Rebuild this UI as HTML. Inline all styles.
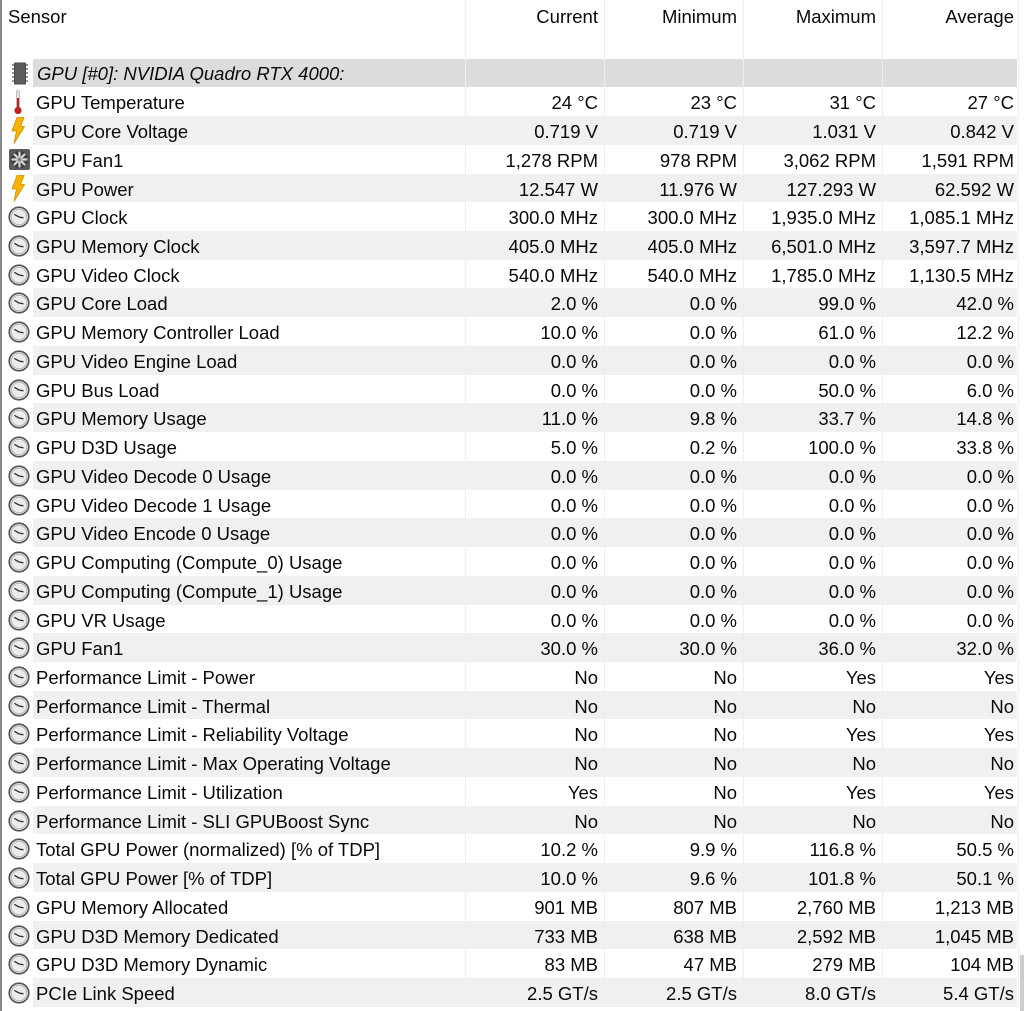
<!DOCTYPE html>
<html><head><meta charset="utf-8"><style>
html,body{margin:0;padding:0;background:#fff;}
body{width:1024px;height:1011px;position:relative;overflow:hidden;font-family:"Liberation Sans",sans-serif;font-size:18.5px;color:#0a0a0a;}
.lb{position:absolute;left:0;top:0;width:2px;height:1011px;background:#8a8a8a;}
.hd{position:absolute;top:6.5px;line-height:20px;white-space:nowrap;}
.grp{position:absolute;left:0;top:59.3px;width:1024px;height:28px;}
.grp::before{content:"";position:absolute;left:33px;width:984px;top:0;bottom:0;background:#dcdcdc;}
.grp .t{position:absolute;left:37px;top:0;line-height:29px;font-style:italic;white-space:nowrap;}
.rows{position:absolute;left:0;top:87.3px;width:1024px;}
.r{position:relative;height:28.74px;width:1024px;}
.r.s::before{content:"";position:absolute;left:33px;width:984px;top:0;bottom:0;background:#f0f0f0;}
.r span{position:absolute;top:0;line-height:28.74px;padding-top:2px;white-space:nowrap;}
.r .n{left:36px;}
.r .v{width:139px;text-align:right;padding-right:6px;box-sizing:border-box;}
.c1{left:465px}.c2{left:604px}.c3{left:743px}.c4{left:882px;width:138px!important}
.ic{position:absolute;left:0;top:0;}
.ic svg{position:absolute;}
.sep{position:absolute;top:0;width:1px;height:1007px;background:#eeeeee;}
.sb{position:absolute;left:1020px;top:955px;width:4px;height:56px;background:#cdcdcd;}
</style></head><body>
<div class="lb"></div>
<div class="hd" style="left:8px">Sensor</div>
<div class="hd" style="left:465px;width:133px;text-align:right">Current</div>
<div class="hd" style="left:604px;width:133px;text-align:right">Minimum</div>
<div class="hd" style="left:743px;width:133px;text-align:right">Maximum</div>
<div class="hd" style="left:882px;width:132px;text-align:right">Average</div>

<div class="grp">
<svg style="position:absolute;left:9px;top:3px" width="22" height="23" viewBox="0 0 22 23"><rect x="3" y="2" width="2" height="2" fill="#999"/><rect x="3" y="6" width="2" height="2" fill="#999"/><rect x="3" y="10" width="2" height="2" fill="#999"/><rect x="3" y="14" width="2" height="2" fill="#999"/><rect x="3" y="18" width="2" height="2" fill="#999"/><rect x="17" y="2" width="2" height="2" fill="#999"/><rect x="17" y="6" width="2" height="2" fill="#999"/><rect x="17" y="10" width="2" height="2" fill="#999"/><rect x="17" y="14" width="2" height="2" fill="#999"/><rect x="17" y="18" width="2" height="2" fill="#999"/><rect x="5" y="0.5" width="12" height="22" rx="1" fill="#4a4a4a"/><rect x="6" y="1.5" width="10" height="20" fill="#5c5c5c"/></svg>
<div class="t">GPU [#0]: NVIDIA Quadro RTX 4000:</div>
</div>

<div class="rows">
<div class="r"><div class="ic"><svg style="left:12px;top:2px" width="12" height="26" viewBox="0 0 12 26"><rect x="4.3" y="1" width="3.4" height="18" rx="1.7" fill="#e2e2e2" stroke="#aaa" stroke-width=".6"/><rect x="5" y="9" width="2" height="12" fill="#c4201e"/><circle cx="6" cy="21.5" r="3.6" fill="#c4201e"/></svg></div><span class="n">GPU Temperature</span><span class="v c1">24 °C</span><span class="v c2">23 °C</span><span class="v c3">31 °C</span><span class="v c4">27 °C</span></div>
<div class="r s"><div class="ic"><svg style="left:11px;top:1px" width="14" height="27" viewBox="0 0 14 27"><polygon points="6,0.5 13,0.5 9.5,9.5 13.5,9.5 3,26.5 5.5,14 1,14" fill="#f6b500" stroke="#d38a00" stroke-width="0.8"/></svg></div><span class="n">GPU Core Voltage</span><span class="v c1">0.719 V</span><span class="v c2">0.719 V</span><span class="v c3">1.031 V</span><span class="v c4">0.842 V</span></div>
<div class="r"><div class="ic"><svg style="left:9px;top:4px" width="21" height="21" viewBox="0 0 21 21"><rect width="21" height="21" rx="2" fill="#5a5a5a"/><circle cx="10.5" cy="10.5" r="8.5" fill="#3e3e3e"/><g stroke="#d8d8d8" stroke-width="2.2" stroke-linecap="round"><line x1="10.5" y1="3.5" x2="10.5" y2="8"/><line x1="10.5" y1="13" x2="10.5" y2="17.5"/><line x1="3.5" y1="10.5" x2="8" y2="10.5"/><line x1="13" y1="10.5" x2="17.5" y2="10.5"/><line x1="5.5" y1="5.5" x2="8.7" y2="8.7"/><line x1="12.3" y1="12.3" x2="15.5" y2="15.5"/><line x1="15.5" y1="5.5" x2="12.3" y2="8.7"/><line x1="8.7" y1="12.3" x2="5.5" y2="15.5"/></g><circle cx="10.5" cy="10.5" r="2" fill="#888"/></svg></div><span class="n">GPU Fan1</span><span class="v c1">1,278 RPM</span><span class="v c2">978 RPM</span><span class="v c3">3,062 RPM</span><span class="v c4">1,591 RPM</span></div>
<div class="r s"><div class="ic"><svg style="left:11px;top:1px" width="14" height="27" viewBox="0 0 14 27"><polygon points="6,0.5 13,0.5 9.5,9.5 13.5,9.5 3,26.5 5.5,14 1,14" fill="#f6b500" stroke="#d38a00" stroke-width="0.8"/></svg></div><span class="n">GPU Power</span><span class="v c1">12.547 W</span><span class="v c2">11.976 W</span><span class="v c3">127.293 W</span><span class="v c4">62.592 W</span></div>
<div class="r"><div class="ic"><svg style="left:8px;top:4px" width="22" height="22" viewBox="0 0 22 22"><circle cx="11" cy="11" r="9.8" fill="#d6d6d6" stroke="#555" stroke-width="1.6"/><circle cx="11" cy="11" r="7.6" fill="#ececec" stroke="#b0b0b0" stroke-width="0.7"/><path d="M11 11 L6.3 8.3 M11 11 L15.5 11.8" stroke="#333" stroke-width="1.3" fill="none"/></svg></div><span class="n">GPU Clock</span><span class="v c1">300.0 MHz</span><span class="v c2">300.0 MHz</span><span class="v c3">1,935.0 MHz</span><span class="v c4">1,085.1 MHz</span></div>
<div class="r s"><div class="ic"><svg style="left:8px;top:4px" width="22" height="22" viewBox="0 0 22 22"><circle cx="11" cy="11" r="9.8" fill="#d6d6d6" stroke="#555" stroke-width="1.6"/><circle cx="11" cy="11" r="7.6" fill="#ececec" stroke="#b0b0b0" stroke-width="0.7"/><path d="M11 11 L6.3 8.3 M11 11 L15.5 11.8" stroke="#333" stroke-width="1.3" fill="none"/></svg></div><span class="n">GPU Memory Clock</span><span class="v c1">405.0 MHz</span><span class="v c2">405.0 MHz</span><span class="v c3">6,501.0 MHz</span><span class="v c4">3,597.7 MHz</span></div>
<div class="r"><div class="ic"><svg style="left:8px;top:4px" width="22" height="22" viewBox="0 0 22 22"><circle cx="11" cy="11" r="9.8" fill="#d6d6d6" stroke="#555" stroke-width="1.6"/><circle cx="11" cy="11" r="7.6" fill="#ececec" stroke="#b0b0b0" stroke-width="0.7"/><path d="M11 11 L6.3 8.3 M11 11 L15.5 11.8" stroke="#333" stroke-width="1.3" fill="none"/></svg></div><span class="n">GPU Video Clock</span><span class="v c1">540.0 MHz</span><span class="v c2">540.0 MHz</span><span class="v c3">1,785.0 MHz</span><span class="v c4">1,130.5 MHz</span></div>
<div class="r s"><div class="ic"><svg style="left:8px;top:4px" width="22" height="22" viewBox="0 0 22 22"><circle cx="11" cy="11" r="9.8" fill="#d6d6d6" stroke="#555" stroke-width="1.6"/><circle cx="11" cy="11" r="7.6" fill="#ececec" stroke="#b0b0b0" stroke-width="0.7"/><path d="M11 11 L6.3 8.3 M11 11 L15.5 11.8" stroke="#333" stroke-width="1.3" fill="none"/></svg></div><span class="n">GPU Core Load</span><span class="v c1">2.0 %</span><span class="v c2">0.0 %</span><span class="v c3">99.0 %</span><span class="v c4">42.0 %</span></div>
<div class="r"><div class="ic"><svg style="left:8px;top:4px" width="22" height="22" viewBox="0 0 22 22"><circle cx="11" cy="11" r="9.8" fill="#d6d6d6" stroke="#555" stroke-width="1.6"/><circle cx="11" cy="11" r="7.6" fill="#ececec" stroke="#b0b0b0" stroke-width="0.7"/><path d="M11 11 L6.3 8.3 M11 11 L15.5 11.8" stroke="#333" stroke-width="1.3" fill="none"/></svg></div><span class="n">GPU Memory Controller Load</span><span class="v c1">10.0 %</span><span class="v c2">0.0 %</span><span class="v c3">61.0 %</span><span class="v c4">12.2 %</span></div>
<div class="r s"><div class="ic"><svg style="left:8px;top:4px" width="22" height="22" viewBox="0 0 22 22"><circle cx="11" cy="11" r="9.8" fill="#d6d6d6" stroke="#555" stroke-width="1.6"/><circle cx="11" cy="11" r="7.6" fill="#ececec" stroke="#b0b0b0" stroke-width="0.7"/><path d="M11 11 L6.3 8.3 M11 11 L15.5 11.8" stroke="#333" stroke-width="1.3" fill="none"/></svg></div><span class="n">GPU Video Engine Load</span><span class="v c1">0.0 %</span><span class="v c2">0.0 %</span><span class="v c3">0.0 %</span><span class="v c4">0.0 %</span></div>
<div class="r"><div class="ic"><svg style="left:8px;top:4px" width="22" height="22" viewBox="0 0 22 22"><circle cx="11" cy="11" r="9.8" fill="#d6d6d6" stroke="#555" stroke-width="1.6"/><circle cx="11" cy="11" r="7.6" fill="#ececec" stroke="#b0b0b0" stroke-width="0.7"/><path d="M11 11 L6.3 8.3 M11 11 L15.5 11.8" stroke="#333" stroke-width="1.3" fill="none"/></svg></div><span class="n">GPU Bus Load</span><span class="v c1">0.0 %</span><span class="v c2">0.0 %</span><span class="v c3">50.0 %</span><span class="v c4">6.0 %</span></div>
<div class="r s"><div class="ic"><svg style="left:8px;top:4px" width="22" height="22" viewBox="0 0 22 22"><circle cx="11" cy="11" r="9.8" fill="#d6d6d6" stroke="#555" stroke-width="1.6"/><circle cx="11" cy="11" r="7.6" fill="#ececec" stroke="#b0b0b0" stroke-width="0.7"/><path d="M11 11 L6.3 8.3 M11 11 L15.5 11.8" stroke="#333" stroke-width="1.3" fill="none"/></svg></div><span class="n">GPU Memory Usage</span><span class="v c1">11.0 %</span><span class="v c2">9.8 %</span><span class="v c3">33.7 %</span><span class="v c4">14.8 %</span></div>
<div class="r"><div class="ic"><svg style="left:8px;top:4px" width="22" height="22" viewBox="0 0 22 22"><circle cx="11" cy="11" r="9.8" fill="#d6d6d6" stroke="#555" stroke-width="1.6"/><circle cx="11" cy="11" r="7.6" fill="#ececec" stroke="#b0b0b0" stroke-width="0.7"/><path d="M11 11 L6.3 8.3 M11 11 L15.5 11.8" stroke="#333" stroke-width="1.3" fill="none"/></svg></div><span class="n">GPU D3D Usage</span><span class="v c1">5.0 %</span><span class="v c2">0.2 %</span><span class="v c3">100.0 %</span><span class="v c4">33.8 %</span></div>
<div class="r s"><div class="ic"><svg style="left:8px;top:4px" width="22" height="22" viewBox="0 0 22 22"><circle cx="11" cy="11" r="9.8" fill="#d6d6d6" stroke="#555" stroke-width="1.6"/><circle cx="11" cy="11" r="7.6" fill="#ececec" stroke="#b0b0b0" stroke-width="0.7"/><path d="M11 11 L6.3 8.3 M11 11 L15.5 11.8" stroke="#333" stroke-width="1.3" fill="none"/></svg></div><span class="n">GPU Video Decode 0 Usage</span><span class="v c1">0.0 %</span><span class="v c2">0.0 %</span><span class="v c3">0.0 %</span><span class="v c4">0.0 %</span></div>
<div class="r"><div class="ic"><svg style="left:8px;top:4px" width="22" height="22" viewBox="0 0 22 22"><circle cx="11" cy="11" r="9.8" fill="#d6d6d6" stroke="#555" stroke-width="1.6"/><circle cx="11" cy="11" r="7.6" fill="#ececec" stroke="#b0b0b0" stroke-width="0.7"/><path d="M11 11 L6.3 8.3 M11 11 L15.5 11.8" stroke="#333" stroke-width="1.3" fill="none"/></svg></div><span class="n">GPU Video Decode 1 Usage</span><span class="v c1">0.0 %</span><span class="v c2">0.0 %</span><span class="v c3">0.0 %</span><span class="v c4">0.0 %</span></div>
<div class="r s"><div class="ic"><svg style="left:8px;top:4px" width="22" height="22" viewBox="0 0 22 22"><circle cx="11" cy="11" r="9.8" fill="#d6d6d6" stroke="#555" stroke-width="1.6"/><circle cx="11" cy="11" r="7.6" fill="#ececec" stroke="#b0b0b0" stroke-width="0.7"/><path d="M11 11 L6.3 8.3 M11 11 L15.5 11.8" stroke="#333" stroke-width="1.3" fill="none"/></svg></div><span class="n">GPU Video Encode 0 Usage</span><span class="v c1">0.0 %</span><span class="v c2">0.0 %</span><span class="v c3">0.0 %</span><span class="v c4">0.0 %</span></div>
<div class="r"><div class="ic"><svg style="left:8px;top:4px" width="22" height="22" viewBox="0 0 22 22"><circle cx="11" cy="11" r="9.8" fill="#d6d6d6" stroke="#555" stroke-width="1.6"/><circle cx="11" cy="11" r="7.6" fill="#ececec" stroke="#b0b0b0" stroke-width="0.7"/><path d="M11 11 L6.3 8.3 M11 11 L15.5 11.8" stroke="#333" stroke-width="1.3" fill="none"/></svg></div><span class="n">GPU Computing (Compute_0) Usage</span><span class="v c1">0.0 %</span><span class="v c2">0.0 %</span><span class="v c3">0.0 %</span><span class="v c4">0.0 %</span></div>
<div class="r s"><div class="ic"><svg style="left:8px;top:4px" width="22" height="22" viewBox="0 0 22 22"><circle cx="11" cy="11" r="9.8" fill="#d6d6d6" stroke="#555" stroke-width="1.6"/><circle cx="11" cy="11" r="7.6" fill="#ececec" stroke="#b0b0b0" stroke-width="0.7"/><path d="M11 11 L6.3 8.3 M11 11 L15.5 11.8" stroke="#333" stroke-width="1.3" fill="none"/></svg></div><span class="n">GPU Computing (Compute_1) Usage</span><span class="v c1">0.0 %</span><span class="v c2">0.0 %</span><span class="v c3">0.0 %</span><span class="v c4">0.0 %</span></div>
<div class="r"><div class="ic"><svg style="left:8px;top:4px" width="22" height="22" viewBox="0 0 22 22"><circle cx="11" cy="11" r="9.8" fill="#d6d6d6" stroke="#555" stroke-width="1.6"/><circle cx="11" cy="11" r="7.6" fill="#ececec" stroke="#b0b0b0" stroke-width="0.7"/><path d="M11 11 L6.3 8.3 M11 11 L15.5 11.8" stroke="#333" stroke-width="1.3" fill="none"/></svg></div><span class="n">GPU VR Usage</span><span class="v c1">0.0 %</span><span class="v c2">0.0 %</span><span class="v c3">0.0 %</span><span class="v c4">0.0 %</span></div>
<div class="r s"><div class="ic"><svg style="left:8px;top:4px" width="22" height="22" viewBox="0 0 22 22"><circle cx="11" cy="11" r="9.8" fill="#d6d6d6" stroke="#555" stroke-width="1.6"/><circle cx="11" cy="11" r="7.6" fill="#ececec" stroke="#b0b0b0" stroke-width="0.7"/><path d="M11 11 L6.3 8.3 M11 11 L15.5 11.8" stroke="#333" stroke-width="1.3" fill="none"/></svg></div><span class="n">GPU Fan1</span><span class="v c1">30.0 %</span><span class="v c2">30.0 %</span><span class="v c3">36.0 %</span><span class="v c4">32.0 %</span></div>
<div class="r"><div class="ic"><svg style="left:8px;top:4px" width="22" height="22" viewBox="0 0 22 22"><circle cx="11" cy="11" r="9.8" fill="#d6d6d6" stroke="#555" stroke-width="1.6"/><circle cx="11" cy="11" r="7.6" fill="#ececec" stroke="#b0b0b0" stroke-width="0.7"/><path d="M11 11 L6.3 8.3 M11 11 L15.5 11.8" stroke="#333" stroke-width="1.3" fill="none"/></svg></div><span class="n">Performance Limit - Power</span><span class="v c1">No</span><span class="v c2">No</span><span class="v c3">Yes</span><span class="v c4">Yes</span></div>
<div class="r s"><div class="ic"><svg style="left:8px;top:4px" width="22" height="22" viewBox="0 0 22 22"><circle cx="11" cy="11" r="9.8" fill="#d6d6d6" stroke="#555" stroke-width="1.6"/><circle cx="11" cy="11" r="7.6" fill="#ececec" stroke="#b0b0b0" stroke-width="0.7"/><path d="M11 11 L6.3 8.3 M11 11 L15.5 11.8" stroke="#333" stroke-width="1.3" fill="none"/></svg></div><span class="n">Performance Limit - Thermal</span><span class="v c1">No</span><span class="v c2">No</span><span class="v c3">No</span><span class="v c4">No</span></div>
<div class="r"><div class="ic"><svg style="left:8px;top:4px" width="22" height="22" viewBox="0 0 22 22"><circle cx="11" cy="11" r="9.8" fill="#d6d6d6" stroke="#555" stroke-width="1.6"/><circle cx="11" cy="11" r="7.6" fill="#ececec" stroke="#b0b0b0" stroke-width="0.7"/><path d="M11 11 L6.3 8.3 M11 11 L15.5 11.8" stroke="#333" stroke-width="1.3" fill="none"/></svg></div><span class="n">Performance Limit - Reliability Voltage</span><span class="v c1">No</span><span class="v c2">No</span><span class="v c3">Yes</span><span class="v c4">Yes</span></div>
<div class="r s"><div class="ic"><svg style="left:8px;top:4px" width="22" height="22" viewBox="0 0 22 22"><circle cx="11" cy="11" r="9.8" fill="#d6d6d6" stroke="#555" stroke-width="1.6"/><circle cx="11" cy="11" r="7.6" fill="#ececec" stroke="#b0b0b0" stroke-width="0.7"/><path d="M11 11 L6.3 8.3 M11 11 L15.5 11.8" stroke="#333" stroke-width="1.3" fill="none"/></svg></div><span class="n">Performance Limit - Max Operating Voltage</span><span class="v c1">No</span><span class="v c2">No</span><span class="v c3">No</span><span class="v c4">No</span></div>
<div class="r"><div class="ic"><svg style="left:8px;top:4px" width="22" height="22" viewBox="0 0 22 22"><circle cx="11" cy="11" r="9.8" fill="#d6d6d6" stroke="#555" stroke-width="1.6"/><circle cx="11" cy="11" r="7.6" fill="#ececec" stroke="#b0b0b0" stroke-width="0.7"/><path d="M11 11 L6.3 8.3 M11 11 L15.5 11.8" stroke="#333" stroke-width="1.3" fill="none"/></svg></div><span class="n">Performance Limit - Utilization</span><span class="v c1">Yes</span><span class="v c2">No</span><span class="v c3">Yes</span><span class="v c4">Yes</span></div>
<div class="r s"><div class="ic"><svg style="left:8px;top:4px" width="22" height="22" viewBox="0 0 22 22"><circle cx="11" cy="11" r="9.8" fill="#d6d6d6" stroke="#555" stroke-width="1.6"/><circle cx="11" cy="11" r="7.6" fill="#ececec" stroke="#b0b0b0" stroke-width="0.7"/><path d="M11 11 L6.3 8.3 M11 11 L15.5 11.8" stroke="#333" stroke-width="1.3" fill="none"/></svg></div><span class="n">Performance Limit - SLI GPUBoost Sync</span><span class="v c1">No</span><span class="v c2">No</span><span class="v c3">No</span><span class="v c4">No</span></div>
<div class="r"><div class="ic"><svg style="left:8px;top:4px" width="22" height="22" viewBox="0 0 22 22"><circle cx="11" cy="11" r="9.8" fill="#d6d6d6" stroke="#555" stroke-width="1.6"/><circle cx="11" cy="11" r="7.6" fill="#ececec" stroke="#b0b0b0" stroke-width="0.7"/><path d="M11 11 L6.3 8.3 M11 11 L15.5 11.8" stroke="#333" stroke-width="1.3" fill="none"/></svg></div><span class="n">Total GPU Power (normalized) [% of TDP]</span><span class="v c1">10.2 %</span><span class="v c2">9.9 %</span><span class="v c3">116.8 %</span><span class="v c4">50.5 %</span></div>
<div class="r s"><div class="ic"><svg style="left:8px;top:4px" width="22" height="22" viewBox="0 0 22 22"><circle cx="11" cy="11" r="9.8" fill="#d6d6d6" stroke="#555" stroke-width="1.6"/><circle cx="11" cy="11" r="7.6" fill="#ececec" stroke="#b0b0b0" stroke-width="0.7"/><path d="M11 11 L6.3 8.3 M11 11 L15.5 11.8" stroke="#333" stroke-width="1.3" fill="none"/></svg></div><span class="n">Total GPU Power [% of TDP]</span><span class="v c1">10.0 %</span><span class="v c2">9.6 %</span><span class="v c3">101.8 %</span><span class="v c4">50.1 %</span></div>
<div class="r"><div class="ic"><svg style="left:8px;top:4px" width="22" height="22" viewBox="0 0 22 22"><circle cx="11" cy="11" r="9.8" fill="#d6d6d6" stroke="#555" stroke-width="1.6"/><circle cx="11" cy="11" r="7.6" fill="#ececec" stroke="#b0b0b0" stroke-width="0.7"/><path d="M11 11 L6.3 8.3 M11 11 L15.5 11.8" stroke="#333" stroke-width="1.3" fill="none"/></svg></div><span class="n">GPU Memory Allocated</span><span class="v c1">901 MB</span><span class="v c2">807 MB</span><span class="v c3">2,760 MB</span><span class="v c4">1,213 MB</span></div>
<div class="r s"><div class="ic"><svg style="left:8px;top:4px" width="22" height="22" viewBox="0 0 22 22"><circle cx="11" cy="11" r="9.8" fill="#d6d6d6" stroke="#555" stroke-width="1.6"/><circle cx="11" cy="11" r="7.6" fill="#ececec" stroke="#b0b0b0" stroke-width="0.7"/><path d="M11 11 L6.3 8.3 M11 11 L15.5 11.8" stroke="#333" stroke-width="1.3" fill="none"/></svg></div><span class="n">GPU D3D Memory Dedicated</span><span class="v c1">733 MB</span><span class="v c2">638 MB</span><span class="v c3">2,592 MB</span><span class="v c4">1,045 MB</span></div>
<div class="r"><div class="ic"><svg style="left:8px;top:4px" width="22" height="22" viewBox="0 0 22 22"><circle cx="11" cy="11" r="9.8" fill="#d6d6d6" stroke="#555" stroke-width="1.6"/><circle cx="11" cy="11" r="7.6" fill="#ececec" stroke="#b0b0b0" stroke-width="0.7"/><path d="M11 11 L6.3 8.3 M11 11 L15.5 11.8" stroke="#333" stroke-width="1.3" fill="none"/></svg></div><span class="n">GPU D3D Memory Dynamic</span><span class="v c1">83 MB</span><span class="v c2">47 MB</span><span class="v c3">279 MB</span><span class="v c4">104 MB</span></div>
<div class="r s"><div class="ic"><svg style="left:8px;top:4px" width="22" height="22" viewBox="0 0 22 22"><circle cx="11" cy="11" r="9.8" fill="#d6d6d6" stroke="#555" stroke-width="1.6"/><circle cx="11" cy="11" r="7.6" fill="#ececec" stroke="#b0b0b0" stroke-width="0.7"/><path d="M11 11 L6.3 8.3 M11 11 L15.5 11.8" stroke="#333" stroke-width="1.3" fill="none"/></svg></div><span class="n">PCIe Link Speed</span><span class="v c1">2.5 GT/s</span><span class="v c2">2.5 GT/s</span><span class="v c3">8.0 GT/s</span><span class="v c4">5.4 GT/s</span></div>
</div>

<div class="sep" style="left:465px"></div>
<div class="sep" style="left:604px"></div>
<div class="sep" style="left:743px"></div>
<div class="sep" style="left:882px"></div>
<div class="sep" style="left:1018px"></div>
<div class="sb"></div>
</body></html>
